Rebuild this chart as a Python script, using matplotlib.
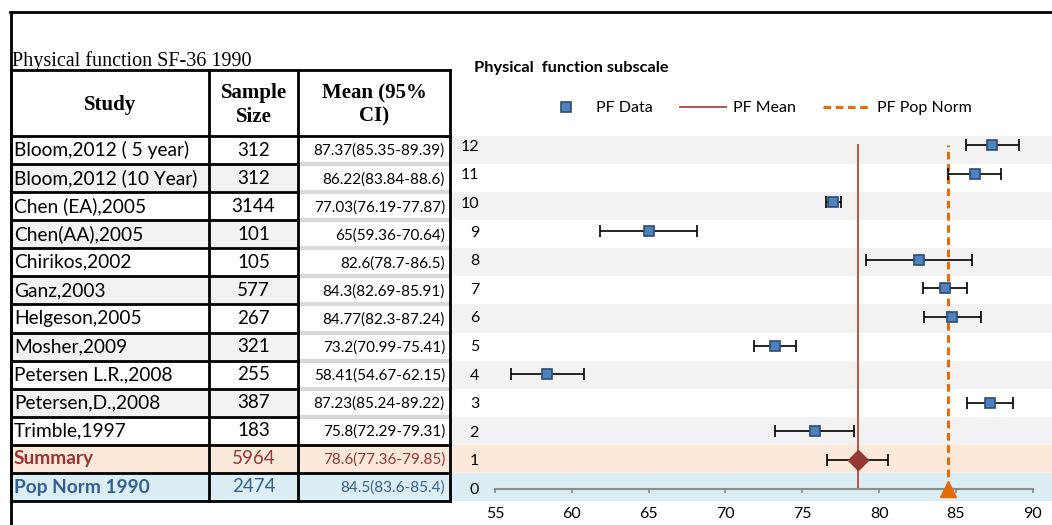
import numpy as np
import matplotlib
matplotlib.use("Agg")
import matplotlib.pyplot as plt
from matplotlib.lines import Line2D

# table content
studies = ["Bloom,2012 ( 5 year)", "Bloom,2012 (10 Year)", "Chen (EA),2005",
           "Chen(AA),2005", "Chirikos,2002", "Ganz,2003", "Helgeson,2005",
           "Mosher,2009", "Petersen L.R.,2008", "Petersen,D.,2008",
           "Trimble,1997", "Summary", "Pop Norm 1990"]
sample_sizes = [312, 312, 3144, 101, 105, 577, 267, 321, 255, 387, 183, 5964, 2474]
ci_labels = ["87.37(85.35-89.39)", "86.22(83.84-88.6)", "77.03(76.19-77.87)",
             "65(59.36-70.64)", "82.6(78.7-86.5)", "84.3(82.69-85.91)",
             "84.77(82.3-87.24)", "73.2(70.99-75.41)", "58.41(54.67-62.15)",
             "87.23(85.24-89.22)", "75.8(72.29-79.31)", "78.6(77.36-79.85)",
             "84.5(83.6-85.4)"]

# forest plot values (as drawn)
rows = [12, 11, 10, 9, 8, 7, 6, 5, 4, 3, 2]
pf_means = [87.37, 86.22, 77.03, 65.0, 82.6, 84.3, 84.77, 73.2, 58.41, 87.23, 75.8]
pf_err = [1.73, 1.74, 0.5, 3.15, 3.47, 1.43, 1.85, 1.37, 2.4, 1.5, 2.56]
summary_row = 1
summary_mean = 78.6
summary_err = 2.0
popnorm_row = 0
popnorm_mean = 84.5
xticks = [55, 60, 65, 70, 75, 80, 85, 90]

W, H = 1052, 525
fig = plt.figure(figsize=(W / 100, H / 100), dpi=100)

# background canvas in pixel coordinates
bg = fig.add_axes([0, 0, 1, 1], zorder=0)
bg.set_xlim(0, W)
bg.set_ylim(H, 0)
bg.axis("off")

grey = "#f2f2f2"
peach = "#fde9d9"
lblue = "#daeef3"
red_txt = "#9b3533"
blue_txt = "#366092"

row_top0 = 136.0
row_h = 28.08
n = len(studies)
col_x = [11, 209, 298, 450]

for i in range(n):
    top = row_top0 + i * row_h
    r = 12 - i
    if r == 1:
        bg.add_patch(plt.Rectangle((col_x[0], top), W - col_x[0], row_h, color=peach, lw=0))
    elif r == 0:
        bg.add_patch(plt.Rectangle((col_x[0], top), W - col_x[0], row_h, color=lblue, lw=0))
    else:
        if r % 2 == 0:
            bg.add_patch(plt.Rectangle((col_x[3], top), W - col_x[3], row_h, color=grey, lw=0))
        else:
            bg.add_patch(plt.Rectangle((col_x[0], top), col_x[2] - col_x[0], row_h, color=grey, lw=0))

    color = "black"
    weight = "normal"
    if r == 1:
        color, weight = red_txt, "bold"
    elif r == 0:
        color, weight = blue_txt, "bold"
    yc = top + row_h / 2
    bg.text(14, yc, studies[i], fontsize=13.8, family="Lato", color=color,
            weight=weight, ha="left", va="center")
    bg.text((col_x[1] + col_x[2]) / 2, yc, str(sample_sizes[i]), fontsize=13.5,
            family="Lato", color=color, ha="center", va="center")
    bg.text(col_x[3] - 5, yc + 1, ci_labels[i], fontsize=11, family="Lato",
            color=color, ha="right", va="center")

# table grid
tab_bot = row_top0 + n * row_h
lw = 2
bg.plot([col_x[0], col_x[3]], [70, 70], color="black", lw=lw)
for i in range(n + 1):
    y = row_top0 + i * row_h
    if 1 <= i <= 10:
        bg.plot([col_x[2], col_x[3]], [y, y], color="#d9d9d9", lw=3, solid_capstyle="butt")
        bg.plot([col_x[0], col_x[2]], [y, y], color="black", lw=lw)
    else:
        bg.plot([col_x[0], col_x[3]], [y, y], color="black", lw=lw)
for x in col_x:
    bg.plot([x, x], [70, tab_bot], color="black", lw=lw)

# outer frame
bg.plot([10, W], [12, 12], color="black", lw=lw)
bg.plot([10.5, 10.5], [12, H], color="black", lw=lw)

# headers
bg.text(12, 66, "Physical function SF-36 1990", fontsize=14.5, family="Liberation Serif",
        ha="left", va="baseline")
bg.text((col_x[0] + col_x[1]) / 2, 105, "Study", fontsize=15, family="Liberation Serif",
        weight="bold", ha="center", va="center")
bg.text((col_x[1] + col_x[2]) / 2, 105, "Sample\nSize", fontsize=15,
        family="Liberation Serif", weight="bold", ha="center", va="center",
        linespacing=1.25)
bg.text((col_x[2] + col_x[3]) / 2, 105, "Mean (95%\nCI)", fontsize=15,
        family="Liberation Serif", weight="bold", ha="center", va="center",
        linespacing=1.25)

# forest plot axes
y_px0, y_px_unit = 488.5, 28.6
ylo, yhi = -0.6, 12.6
bottom = 1 - (y_px0 - y_px_unit * ylo) / H
top = 1 - (y_px0 - y_px_unit * yhi) / H
x0, x1 = 495.0, 1032.7
ax = fig.add_axes([x0 / W, bottom, (x1 - x0) / W, top - bottom], zorder=1)
ax.patch.set_alpha(0)
ax.set_xlim(55, 90)
ax.set_ylim(ylo, yhi)

mean_col = "#b9534f"
pop_col = "#e46c0a"
dash = (0, (2.5, 1.5))

ax.plot([summary_mean, summary_mean], [0, 12], color=mean_col, lw=1.4, zorder=2)
ax.plot([popnorm_mean, popnorm_mean], [0, 12], color=pop_col, lw=2.2, ls=dash, zorder=2)

ax.errorbar(pf_means, rows, xerr=pf_err, fmt="none", ecolor="black",
            elinewidth=1.2, capsize=4, capthick=1.2, zorder=3)
ax.plot(pf_means, rows, ls="none", marker="s", ms=7, mfc="#4f81bd",
        mec="#2c4d75", mew=1.2, zorder=4)
ax.errorbar([summary_mean], [summary_row], xerr=[summary_err], fmt="none",
            ecolor="black", elinewidth=1.2, capsize=4, capthick=1.2, zorder=3)
ax.plot([summary_mean], [summary_row], ls="none", marker="D", ms=10,
        mfc="#953735", mec="#953735", zorder=4)
ax.plot([popnorm_mean], [popnorm_row], ls="none", marker="^", ms=11,
        mfc=pop_col, mec=pop_col, zorder=4, clip_on=False)

for s in ["top", "right", "left"]:
    ax.spines[s].set_visible(False)
ax.spines["bottom"].set_position(("data", 0))
ax.spines["bottom"].set_color("#8c8c8c")
ax.spines["bottom"].set_linewidth(1.5)
ax.set_xticks(xticks)
ax.tick_params(axis="x", colors="#8c8c8c", direction="out", length=3, width=1.2,
               labelcolor="black", labelsize=11.5, pad=10.5)
for lab in ax.get_xticklabels():
    lab.set_family("Lato")
ax.set_yticks(range(0, 13))
ax.tick_params(axis="y", length=0, labelsize=11.5, pad=11.5)
for lab in ax.get_yticklabels():
    lab.set_family("Lato")

# title and legend
fig.text(474 / W, 1 - 72 / H, "Physical  function subscale", fontsize=11.8,
         family="Lato", weight="bold", ha="left", va="baseline")
handles = [
    Line2D([], [], ls="none", marker="s", ms=7, mfc="#4f81bd", mec="#2c4d75", mew=1.2),
    Line2D([], [], color=mean_col, lw=1.4),
    Line2D([], [], color=pop_col, lw=2.2, ls=dash),
]
leg = fig.legend(handles, ["PF Data", "PF Mean", "PF Pop Norm"], loc="center",
                 bbox_to_anchor=(757 / W, 1 - 108 / H), ncol=3, frameon=False,
                 handlelength=2.9, columnspacing=1.7, handletextpad=0.45,
                 prop={"family": "Lato", "size": 11.5})

fig.savefig("out.png", dpi=100)
